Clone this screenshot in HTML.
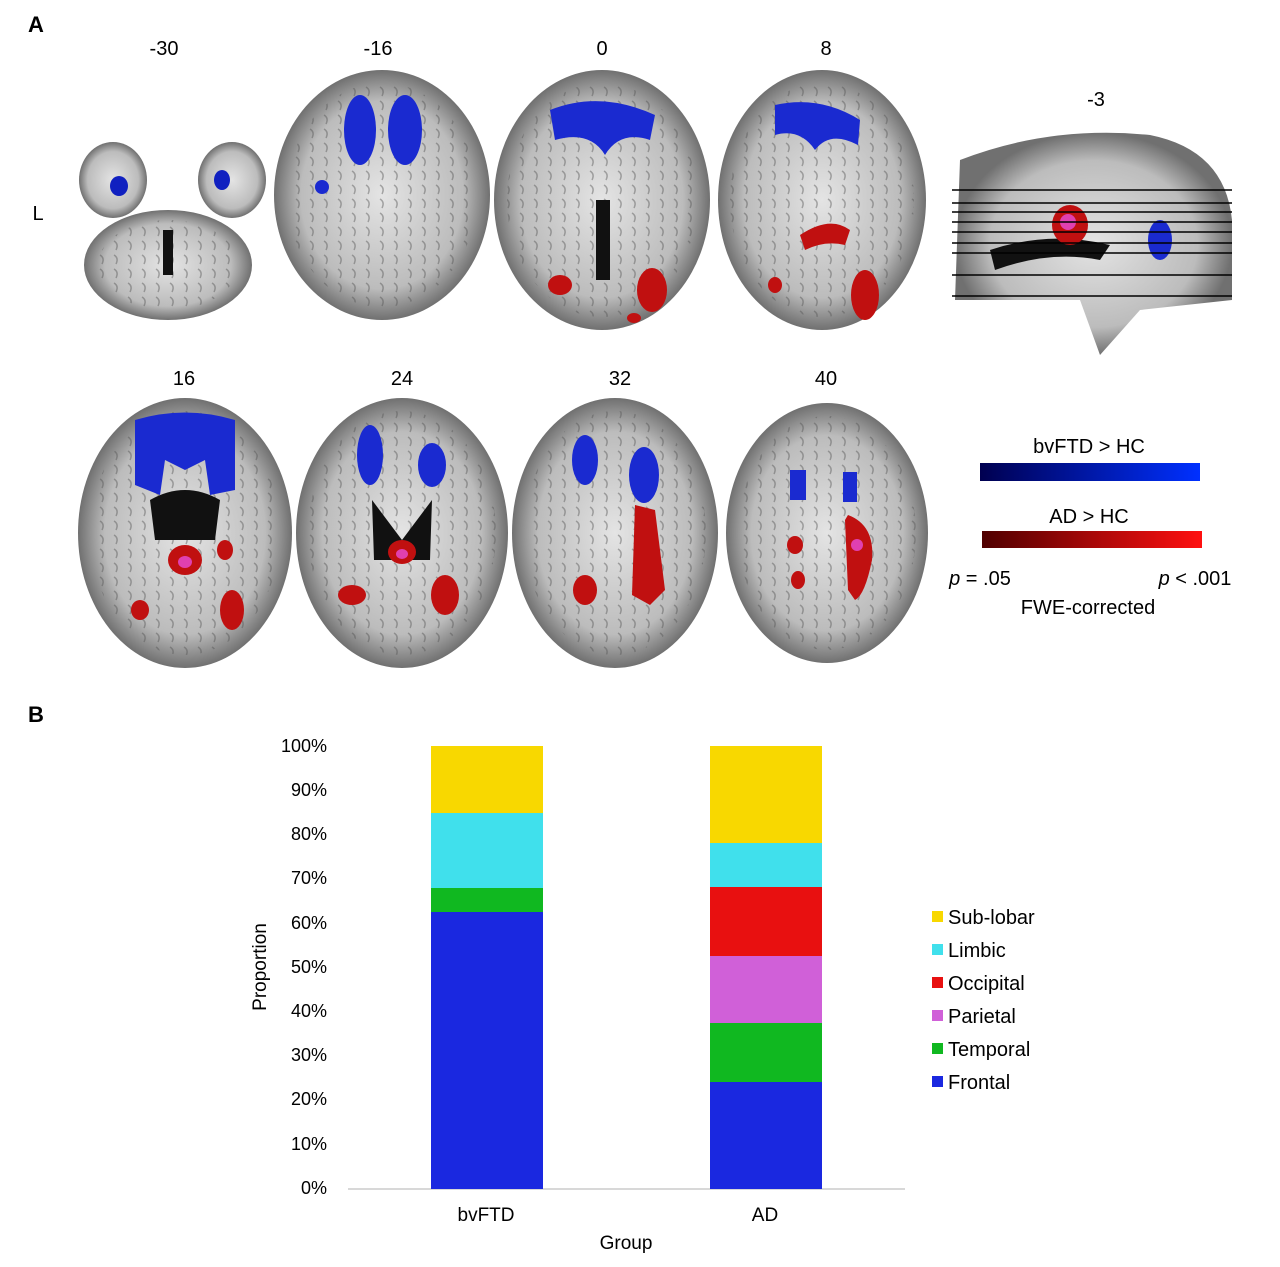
<!DOCTYPE html>
<html><head><meta charset="utf-8"><style>
body{margin:0;background:#fff;width:1280px;height:1267px;overflow:hidden;font-family:"Liberation Sans",sans-serif}
svg{position:absolute;left:0;top:0}
</style></head><body>
<svg width="1280" height="1267" viewBox="0 0 1280 1267" font-family="Liberation Sans, sans-serif">
<defs>
<linearGradient id="gb" x1="0" x2="1"><stop offset="0" stop-color="#000050"/><stop offset="1" stop-color="#0030ff"/></linearGradient>
<linearGradient id="gr" x1="0" x2="1"><stop offset="0" stop-color="#500000"/><stop offset="1" stop-color="#ff1010"/></linearGradient>
<radialGradient id="br"><stop offset="0" stop-color="#e4e4e4"/><stop offset="0.75" stop-color="#bcbcbc"/><stop offset="1" stop-color="#707070"/></radialGradient>
<pattern id="sul" width="14" height="14" patternUnits="userSpaceOnUse"><path d="M2 3 Q7 6 4 12" stroke="#555" stroke-width="1.5" fill="none"/></pattern>
</defs>
<text x="28" y="32" font-size="22" font-weight="bold">A</text>
<text x="28" y="722" font-size="22" font-weight="bold">B</text>
<g font-size="20" text-anchor="middle">
<text x="164" y="55">-30</text><text x="378" y="55">-16</text><text x="602" y="55">0</text><text x="826" y="55">8</text><text x="1096" y="106">-3</text>
<text x="184" y="385">16</text><text x="402" y="385">24</text><text x="620" y="385">32</text><text x="826" y="385">40</text>
<text x="38" y="220">L</text>
</g>
<g id="brains">
<ellipse cx="113" cy="180" rx="34" ry="38" fill="url(#br)"/>
<ellipse cx="232" cy="180" rx="34" ry="38" fill="url(#br)"/>
<ellipse cx="168" cy="265" rx="84" ry="55" fill="url(#br)"/>
<ellipse cx="382" cy="195" rx="108" ry="125" fill="url(#br)"/>
<ellipse cx="602" cy="200" rx="108" ry="130" fill="url(#br)"/>
<ellipse cx="822" cy="200" rx="104" ry="130" fill="url(#br)"/>
<path d="M960 160 Q1050 125 1150 135 Q1225 150 1232 220 L1232 300 L1140 310 L1100 355 L1080 300 L955 300Z" fill="url(#br)"/>
<ellipse cx="185" cy="533" rx="107" ry="135" fill="url(#br)"/>
<ellipse cx="402" cy="533" rx="106" ry="135" fill="url(#br)"/>
<ellipse cx="615" cy="533" rx="103" ry="135" fill="url(#br)"/>
<ellipse cx="827" cy="533" rx="101" ry="130" fill="url(#br)"/>
</g>
<g opacity="0.45">
<ellipse cx="168" cy="265" rx="70" ry="45" fill="url(#sul)"/>
<ellipse cx="382" cy="195" rx="95" ry="112" fill="url(#sul)"/>
<ellipse cx="602" cy="200" rx="95" ry="117" fill="url(#sul)"/>
<ellipse cx="822" cy="200" rx="92" ry="117" fill="url(#sul)"/>
<ellipse cx="185" cy="533" rx="95" ry="122" fill="url(#sul)"/>
<ellipse cx="402" cy="533" rx="94" ry="122" fill="url(#sul)"/>
<ellipse cx="615" cy="533" rx="91" ry="122" fill="url(#sul)"/>
<ellipse cx="827" cy="533" rx="89" ry="117" fill="url(#sul)"/>
</g>
<ellipse cx="119" cy="186" rx="9" ry="10" fill="#1020c0"/><ellipse cx="222" cy="180" rx="8" ry="10" fill="#1020c0"/>
<rect x="163" y="230" width="10" height="45" fill="#111"/>
<ellipse cx="360" cy="130" rx="16" ry="35" fill="#1a2ad0"/><ellipse cx="405" cy="130" rx="17" ry="35" fill="#1a2ad0"/><ellipse cx="322" cy="187" rx="7" ry="7" fill="#1a2ad0"/>
<path d="M550 110 Q600 90 655 115 L650 140 Q620 130 605 155 Q590 130 555 140Z" fill="#1a2ad0"/>
<rect x="596" y="200" width="14" height="80" fill="#111"/>
<ellipse cx="560" cy="285" rx="12" ry="10" fill="#c01010"/><ellipse cx="652" cy="290" rx="15" ry="22" fill="#c01010"/><ellipse cx="634" cy="318" rx="7" ry="5" fill="#c01010"/>
<path d="M775 105 Q820 95 860 120 L858 145 Q830 130 815 150 Q800 128 775 135Z" fill="#1a2ad0"/>
<path d="M800 235 Q830 215 850 230 L845 245 Q825 240 805 250Z" fill="#c01010"/>
<ellipse cx="865" cy="295" rx="14" ry="25" fill="#c01010"/><ellipse cx="775" cy="285" rx="7" ry="8" fill="#c01010"/>
<path d="M990 250 Q1050 230 1110 245 L1100 260 Q1050 250 995 270Z" fill="#111"/>
<ellipse cx="1070" cy="225" rx="18" ry="20" fill="#c01010"/><ellipse cx="1068" cy="222" rx="8" ry="8" fill="#e040b0"/>
<ellipse cx="1160" cy="240" rx="12" ry="20" fill="#1a2ad0"/>
<g stroke="#000" stroke-width="1.5">
<line x1="952" y1="190" x2="1232" y2="190"/><line x1="952" y1="203" x2="1232" y2="203"/><line x1="952" y1="212" x2="1232" y2="212"/><line x1="952" y1="222" x2="1232" y2="222"/><line x1="952" y1="232" x2="1232" y2="232"/><line x1="952" y1="243" x2="1232" y2="243"/><line x1="952" y1="253" x2="1232" y2="253"/><line x1="952" y1="275" x2="1232" y2="275"/><line x1="952" y1="296" x2="1232" y2="296"/></g>
<path d="M135 420 Q185 405 235 420 L235 490 L210 495 L205 460 L185 470 L165 460 L160 495 L135 485Z" fill="#1a2ad0"/>
<path d="M150 500 Q185 480 220 500 L215 540 L155 540Z" fill="#111"/>
<ellipse cx="185" cy="560" rx="17" ry="15" fill="#c01010"/><ellipse cx="185" cy="562" rx="7" ry="6" fill="#e040b0"/>
<ellipse cx="140" cy="610" rx="9" ry="10" fill="#c01010"/><ellipse cx="232" cy="610" rx="12" ry="20" fill="#c01010"/><ellipse cx="225" cy="550" rx="8" ry="10" fill="#c01010"/>
<path d="M372 500 L402 540 L432 500 L430 560 L374 560Z" fill="#111"/>
<ellipse cx="370" cy="455" rx="13" ry="30" fill="#1a2ad0"/><ellipse cx="432" cy="465" rx="14" ry="22" fill="#1a2ad0"/>
<ellipse cx="402" cy="552" rx="14" ry="12" fill="#c01010"/><ellipse cx="402" cy="554" rx="6" ry="5" fill="#e040b0"/>
<ellipse cx="352" cy="595" rx="14" ry="10" fill="#c01010"/><ellipse cx="445" cy="595" rx="14" ry="20" fill="#c01010"/>
<ellipse cx="585" cy="460" rx="13" ry="25" fill="#1a2ad0"/><ellipse cx="644" cy="475" rx="15" ry="28" fill="#1a2ad0"/>
<path d="M635 505 L655 510 L665 590 L650 605 L632 595Z" fill="#c01010"/>
<ellipse cx="585" cy="590" rx="12" ry="15" fill="#c01010"/>
<rect x="790" y="470" width="16" height="30" fill="#1a2ad0"/><rect x="843" y="472" width="14" height="30" fill="#1a2ad0"/>
<path d="M848 515 Q875 525 872 560 Q865 595 855 600 L848 590 L845 520Z" fill="#c01010"/><ellipse cx="857" cy="545" rx="6" ry="6" fill="#e040b0"/>
<ellipse cx="795" cy="545" rx="8" ry="9" fill="#c01010"/><ellipse cx="798" cy="580" rx="7" ry="9" fill="#c01010"/>
<g font-size="20" text-anchor="middle">
<text x="1089" y="453">bvFTD &gt; HC</text>
<rect x="980" y="463" width="220" height="18" fill="url(#gb)"/>
<text x="1089" y="523">AD &gt; HC</text>
<rect x="982" y="531" width="220" height="17" fill="url(#gr)"/>
<text x="980" y="585"><tspan font-style="italic">p</tspan> = .05</text>
<text x="1195" y="585"><tspan font-style="italic">p</tspan> &lt; .001</text>
<text x="1088" y="614">FWE-corrected</text>
</g>
<g font-size="18" text-anchor="end">
<text x="327" y="752">100%</text><text x="327" y="796">90%</text><text x="327" y="840">80%</text><text x="327" y="884">70%</text><text x="327" y="929">60%</text><text x="327" y="973">50%</text><text x="327" y="1017">40%</text><text x="327" y="1061">30%</text><text x="327" y="1105">20%</text><text x="327" y="1150">10%</text><text x="327" y="1194">0%</text>
</g>
<line x1="348" y1="1189" x2="905" y2="1189" stroke="#ccc" stroke-width="1.5"/>
<rect x="431" y="746" width="112" height="67" fill="#f8d800"/>
<rect x="431" y="813" width="112" height="75" fill="#40e0ec"/>
<rect x="431" y="888" width="112" height="24" fill="#10b820"/>
<rect x="431" y="912" width="112" height="277" fill="#1a28e0"/>
<rect x="710" y="746" width="112" height="97" fill="#f8d800"/>
<rect x="710" y="843" width="112" height="44" fill="#40e0ec"/>
<rect x="710" y="887" width="112" height="69" fill="#e81010"/>
<rect x="710" y="956" width="112" height="67" fill="#d060d8"/>
<rect x="710" y="1023" width="112" height="59" fill="#10b820"/>
<rect x="710" y="1082" width="112" height="107" fill="#1a28e0"/>
<g font-size="19" text-anchor="middle">
<text x="486" y="1221">bvFTD</text><text x="765" y="1221">AD</text><text x="626" y="1249">Group</text>
<text transform="translate(266,967) rotate(-90)">Proportion</text>
</g>
<g font-size="20">
<rect x="932" y="911" width="11" height="11" fill="#f8d800"/><text x="948" y="924">Sub-lobar</text>
<rect x="932" y="944" width="11" height="11" fill="#40e0ec"/><text x="948" y="957">Limbic</text>
<rect x="932" y="977" width="11" height="11" fill="#e81010"/><text x="948" y="990">Occipital</text>
<rect x="932" y="1010" width="11" height="11" fill="#d060d8"/><text x="948" y="1023">Parietal</text>
<rect x="932" y="1043" width="11" height="11" fill="#10b820"/><text x="948" y="1056">Temporal</text>
<rect x="932" y="1076" width="11" height="11" fill="#1a28e0"/><text x="948" y="1089">Frontal</text>
</g>
</svg>
</body></html>
